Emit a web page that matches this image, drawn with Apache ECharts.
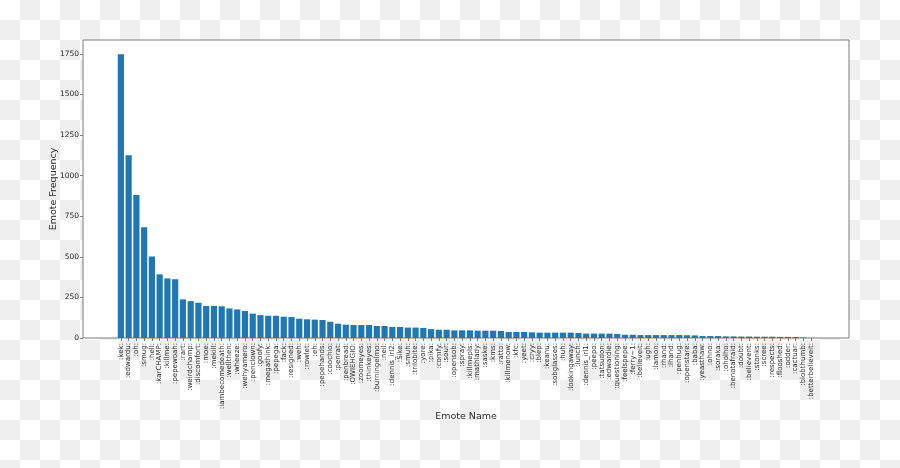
<!DOCTYPE html>
<html>
<head>
<meta charset="utf-8">
<script src="https://cdn.jsdelivr.net/npm/echarts@6/dist/echarts.min.js"></script>
<style>
  html, body { margin: 0; padding: 0; }
  body {
    width: 900px; height: 468px;
    background: repeating-conic-gradient(#efefef 0 25%, #ffffff 0 50%) 0 0 / 40px 40px;
  }
  #chart { width: 900px; height: 468px; }
</style>
</head>
<body>
<div id="chart"></div>
<script>
const emoteNames = [
  ':kek:', ':edwardu:', ':oh:', ':smug:', ':hell:', ':karCHAMP:', ':killme:', ':pepewoah:', ':rart:', ':weirdchamp:',
  ':discomfort:', ':moe:', ':mekill:', ':iambecomedeath:', ':wellthen:', ':wheeze:', ':wehyamero:', ':penclown:', ':goofy:', ':megathink:',
  ':pepega:', ':fack:', ':resigned:', ':weh:', ':rowlet:', ':eh:', ':pepehands:', ':coochio:', ':penrat:', ':penbread:',
  ':OWIEHGIO:', ':zoomeyes:', ':thinkeyes:', ':burningelmo:', ':neil:', ':dennis_irl2:', ':Sike:', ':smuh:', ':trilobite:', ':yore:',
  ':pika:', ':comfy:', ':sour:', ':opensob:', ':spray:', ':killmepls:', ':mathlady:', ':saske:', ':kms:', ':ratto:',
  ':killmenow:', ':kfc:', ':yeet:', ':cryy:', ':blep:', ':keanu:', ':sobglasses:', ':huh:', ':lookingaway:', ':lunch:',
  ':dennis_irl1:', ':peepo:', ':tatsudon:', ':edwardie:', ':questioning:', ':feelspepe:', ':ferry~1:', ':believeit:', ':ugh:', ':lamon:',
  ':rhand:', ':lhand:', ':penhug:', ':openstare:', ':baba:', ':yeasthaw:', ':ohno:', ':soraka:', ':oholho:', ':benotafraid:',
  ':doubt:', ':believent:', ':stonks:', ':scree:', ':respects:', ':flooshed:', ':odder:', ':cactuar:', ':blobthumb:', ':betterbelieveit:'
];
const emoteFrequency = [
  1748, 1126, 880, 682, 502, 392, 367, 362, 238, 227,
  217, 197, 197, 195, 182, 176, 166, 150, 141, 137,
  137, 131, 129, 119, 115, 113, 111, 100, 88, 82,
  80, 80, 80, 74, 74, 68, 68, 64, 64, 62,
  55, 51, 51, 47, 47, 47, 45, 45, 45, 43,
  37, 37, 37, 35, 33, 33, 33, 33, 33, 31,
  27, 27, 27, 27, 25, 20, 20, 18, 18, 18,
  18, 18, 18, 17, 16, 12, 12, 12, 10, 10,
  9, 9, 8, 8, 8, 7, 7, 6, 3, 1
];
const yTicks = [0, 250, 500, 750, 1000, 1250, 1500, 1750];
const yMax = 1835;

const FONT = 'DejaVu Sans';
const TEXT = '#262626';
const SPINE = '#7a7a7a';

const chart = echarts.init(document.getElementById('chart'), null, { renderer: 'canvas' });
chart.setOption({
  animation: false,
  backgroundColor: 'transparent',
  textStyle: { fontFamily: FONT },
  grid: [
    { left: 83, right: 51, top: 40, bottom: 130, show: true, backgroundColor: '#ffffff', borderColor: SPINE, borderWidth: 1 },
    { left: 117, right: 85, top: 40, bottom: 130 }
  ],
  xAxis: [
    { gridIndex: 0, type: 'value', min: 0, max: 1, show: false },
    {
      gridIndex: 1, type: 'category', data: emoteNames,
      axisLine: { show: false },
      axisTick: { show: true, alignWithLabel: true, interval: 0, length: 3, lineStyle: { color: SPINE } },
      axisLabel: { interval: 0, rotate: 90, fontSize: 7, margin: 5, color: TEXT, fontFamily: FONT },
      name: 'Emote Name', nameLocation: 'middle', nameGap: 74, nameMoveOverlap: false,
      nameTextStyle: { fontSize: 9.5, color: TEXT, fontFamily: FONT }
    }
  ],
  yAxis: [
    {
      gridIndex: 0, type: 'value', min: 0, max: yMax,
      axisLine: { show: false },
      splitLine: { show: false },
      axisTick: { show: true, length: 3, lineStyle: { color: SPINE }, customValues: yTicks },
      axisLabel: { fontSize: 7.5, margin: 4, color: TEXT, fontFamily: FONT, customValues: yTicks,
                   formatter: function (v) { return String(v); } },
      name: 'Emote Frequency', nameLocation: 'middle', nameGap: 24, nameMoveOverlap: false,
      nameTextStyle: { fontSize: 9.5, color: TEXT, fontFamily: FONT }
    },
    { gridIndex: 1, type: 'value', min: 0, max: yMax, show: false }
  ],
  series: [
    {
      type: 'bar', xAxisIndex: 1, yAxisIndex: 1,
      data: emoteFrequency,
      barWidth: '80%',
      itemStyle: { color: '#1f77b4' }
    }
  ]
});
</script>
</body>
</html>
